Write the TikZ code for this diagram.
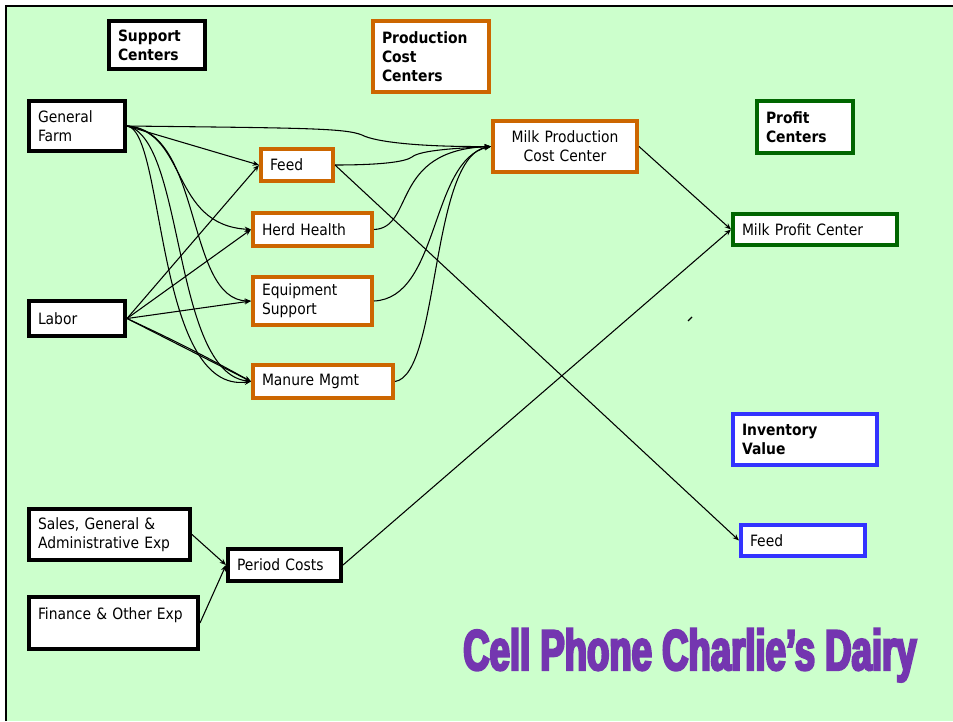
\documentclass[tikz,border=0pt]{standalone}
\usepackage{fontspec}
\usepackage{graphicx}
\setmainfont{DejaVu Sans}[FakeStretch=0.89]
\newfontfamily\ttlfont{Liberation Sans}[UprightFont=* Bold, FakeBold=4, FakeStretch=0.637]
\usetikzlibrary{arrows.meta}
\definecolor{bgG}{HTML}{CCFFCC}
\definecolor{orgB}{HTML}{CC6600}
\definecolor{grnB}{HTML}{006600}
\definecolor{bluB}{HTML}{3333FF}
\definecolor{ttlC}{HTML}{7436B0}
\newcommand{\cbox}[7]{%
  \pgfmathsetmacro\cbW{(#4-#2-4)*0.75}%
  \pgfmathsetmacro\cbH{(#5-#3-4)*0.75}%
  \pgfmathsetmacro\cbT{(#4-#2-22)*0.75}%
  \node[#6,anchor=north west,minimum width=\cbW pt,minimum height=\cbH pt,text width=\cbT pt] (#1) at (#2,#3) {#7};}
\begin{document}
\begin{tikzpicture}[x=0.75pt,y=-0.75pt,
  box/.style={draw=black,fill=white,line width=3pt,inner xsep=6.75pt,inner ysep=0pt,align=left,
    font=\fontsize{11.7pt}{14.25pt}\selectfont,text=black},
  obox/.style={box,draw=orgB},
  gbox/.style={box,draw=grnB},
  bbox/.style={box,draw=bluB},
  head/.style={font=\fontsize{11.7pt}{14.25pt}\selectfont\bfseries},
  conn/.style={line width=0.8pt,-{Stealth[length=4.8pt,width=3.8pt]}},
  tickline/.style={line width=0.9pt}]
\useasboundingbox (0,0) rectangle (953,721);
\fill[white] (0,0) rectangle (953,721);
\fill[bgG] (6,6) rectangle (953,721);
\draw[line width=1.9pt] (6,721) -- (6,6) -- (953,6);

% headings
\cbox{sc}{107}{19}{207}{71}{box,head}{Support\\Centers}
\cbox{pcc}{371}{19}{491}{94}{obox,head}{Production\\Cost\\Centers}
\cbox{pc}{755}{99}{855}{155}{gbox,head}{Profit\\Centers}
\cbox{iv}{731}{412}{879}{467}{bbox,head}{Inventory\\Value}

% support centers
\cbox{gf}{27}{99}{127}{153}{box}{General\\Farm}
\cbox{labor}{27}{299}{127}{338}{box}{Labor}
\cbox{sga}{27}{507}{192}{562}{box}{Sales, General \&\\Administrative Exp}
\cbox{fin}{27}{595}{200}{651}{box}{Finance \& Other Exp\\\mbox{}}

% production cost centers
\cbox{feed}{259}{147}{335}{183}{obox}{Feed}
\cbox{herd}{251}{211}{374}{248}{obox}{Herd Health}
\cbox{equip}{251}{275}{374}{327}{obox}{Equipment\\Support}
\cbox{manure}{251}{363}{395}{400}{obox}{Manure Mgmt}
\cbox{mp}{491}{119}{639}{174}{obox,align=center}{Milk Production\\Cost Center}
\cbox{per}{226}{547}{343}{583}{box}{Period Costs}

% profit / inventory
\cbox{mpc}{731}{212}{899}{247}{gbox}{Milk Profit Center}
\cbox{ifeed}{739}{523}{867}{558}{bbox}{Feed}

% General Farm connectors
\draw[conn] (gf.east) .. controls (300,128) and (345,128) .. (362,135)
   .. controls (375,142) and (420,147) .. (mp.west);
\draw[conn] (gf.east) -- (feed.west);
\draw[conn] (gf.east) .. controls (188,132) and (170,225) .. (herd.west);
\draw[conn] (gf.east) .. controls (203,130) and (185,300) .. (equip.west);
\draw[conn] (gf.east) .. controls (165,130) and (155,395) .. (manure.west);
\draw[conn] (gf.east) .. controls (185,138) and (172,372) .. (manure.west);

% Labor connectors
\draw[conn] (labor.east) -- (feed.west);
\draw[conn] (labor.east) -- (herd.west);
\draw[conn] (labor.east) -- (equip.west);
\draw[conn] (labor.east) -- (manure.west);
\draw[conn] (labor.east) to[bend left=2] (manure.west);

% production centers to milk production
\draw[conn] (feed.east) .. controls (380,165) and (405,162) .. (412,157)
   .. controls (420,150) and (460,148) .. (mp.west);
\draw[conn] (herd.east) .. controls (415,228) and (390,150) .. (mp.west);
\draw[conn] (equip.east) .. controls (440,298) and (430,160) .. (mp.west);
\draw[conn] (manure.east) .. controls (440,375) and (430,155) .. (mp.west);

\draw[conn] (feed.east) -- (ifeed.west);
\draw[conn] (mp.east) -- (mpc.west);
\draw[conn] (per.east) -- (mpc.west);
\draw[conn] (sga.east) -- (per.west);
\draw[conn] (fin.east) -- (per.west);

% stray tick
\coordinate (tickA) at (688,321);
\coordinate (tickB) at (692,317);
\draw[tickline] (tickA) -- (tickB);

% title
\node[anchor=base west,inner sep=0pt,text=ttlC] (title) at (463,670)
  {\fontsize{43pt}{46pt}\ttlfont Cell Phone Charlie’s Dairy};
\end{tikzpicture}
\end{document}
